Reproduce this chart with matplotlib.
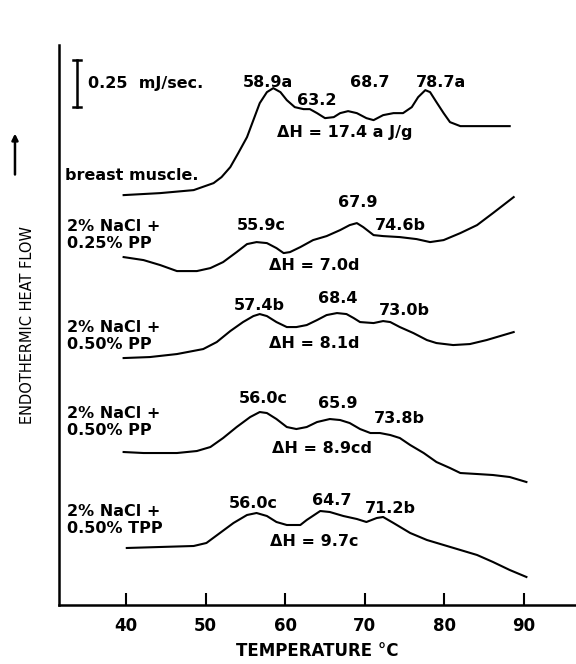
import matplotlib.pyplot as plt

# DSC thermograms, heat flow in arbitrary units (curves stacked as in the original)
t_breast = [39.7, 44.3, 48.5, 51.0, 52.0, 53.1, 54.1, 55.2, 56.0, 56.8, 57.7, 58.5, 59.4, 60.2,
            61.2, 62.3, 63.1, 64.0, 65.0, 66.1, 66.9, 67.9, 69.0, 70.2, 71.1, 72.3, 73.6, 74.8,
            75.9, 76.7, 77.6, 78.2, 79.0, 79.9, 80.7, 82.0, 84.1, 88.2]
h_breast = [410, 412, 415, 422, 428, 438, 452, 468, 485, 502, 513, 517, 513, 505,
            498, 496, 496, 492, 487, 488, 492, 494, 492, 487, 485, 490, 492, 492,
            498, 508, 515, 513, 503, 492, 483, 479, 479, 479]

t_pp25 = [39.7, 42.2, 44.3, 46.4, 48.9, 50.6, 52.2, 53.9, 55.2, 56.4, 57.7, 58.9, 59.8, 60.6,
          61.9, 63.5, 65.2, 66.9, 68.1, 69.0, 69.8, 71.1, 72.3, 74.4, 76.5, 78.2, 79.9, 82.0,
          84.1, 86.1, 88.7]
h_pp25 = [348, 345, 340, 334, 334, 337, 343, 353, 361, 363, 362, 357, 352, 353,
          358, 365, 369, 375, 380, 382, 378, 370, 369, 368, 366, 363, 365, 372,
          380, 392, 408]

t_pp50a = [39.7, 43.0, 46.4, 49.7, 51.4, 53.1, 54.7, 56.0, 56.8, 57.7, 58.9, 60.2, 61.4, 62.7,
           64.0, 65.2, 66.5, 67.7, 68.6, 69.4, 71.1, 72.3, 73.2, 74.4, 76.1, 77.8, 79.0, 81.1,
           83.2, 85.3, 88.7]
h_pp50a = [247, 248, 251, 256, 263, 274, 283, 289, 291, 289, 283, 278, 278, 280,
           285, 290, 292, 291, 287, 283, 282, 284, 283, 278, 272, 265, 262, 260,
           261, 265, 273]

t_pp50b = [39.7, 42.2, 46.4, 48.9, 50.6, 52.2, 53.9, 55.6, 56.8, 57.7, 58.9, 60.2, 61.4, 62.7,
           64.0, 65.6, 66.9, 68.1, 69.4, 70.7, 71.9, 73.2, 74.4, 75.7, 77.4, 79.0, 80.7, 82.0,
           84.1, 86.1, 88.2, 90.3]
h_pp50b = [153, 152, 152, 154, 158, 167, 178, 188, 193, 192, 186, 178, 176, 178,
           183, 186, 185, 182, 176, 172, 172, 170, 167, 160, 152, 143, 137, 132,
           131, 130, 128, 123]

t_tpp = [40.1, 44.3, 48.5, 50.1, 51.8, 53.5, 55.2, 56.4, 57.7, 58.9, 60.2, 61.9, 62.7, 64.4,
         65.6, 67.3, 69.0, 70.2, 71.5, 72.3, 73.6, 75.7, 77.8, 79.9, 82.0, 84.1, 86.1, 88.2,
         90.3]
h_tpp = [57, 58, 59, 62, 72, 82, 90, 92, 89, 83, 80, 80, 85, 94,
         93, 89, 86, 83, 87, 88, 82, 72, 65, 60, 55, 50, 43, 35, 28]

curves = [(t_breast, h_breast), (t_pp25, h_pp25), (t_pp50a, h_pp50a),
          (t_pp50b, h_pp50b), (t_tpp, h_tpp)]

sample_names = ['2% NaCl +\n0.25% PP', '2% NaCl +\n0.50% PP',
                '2% NaCl +\n0.50% PP', '2% NaCl +\n0.50% TPP']
sample_name_y = [370, 269, 183, 85]

# peak labels: (text, temperature, heat flow)
peak_labels = [
    ('58.9a', 57.8, 523), ('68.7', 70.6, 523), ('78.7a', 79.6, 523), ('63.2', 64.0, 505),
    ('ΔH = 17.4 a J/g', 67.5, 473),
    ('55.9c', 57.0, 380), ('67.9', 69.1, 403), ('74.6b', 74.5, 380), ('ΔH = 7.0d', 63.6, 340),
    ('57.4b', 56.8, 300), ('68.4', 66.6, 307), ('73.0b', 75.0, 295), ('ΔH = 8.1d', 63.7, 262),
    ('56.0c', 57.2, 207), ('65.9', 66.6, 202), ('73.8b', 74.4, 187), ('ΔH = 8.9cd', 64.6, 157),
    ('56.0c', 56.0, 102), ('64.7', 65.9, 105), ('71.2b', 73.2, 97), ('ΔH = 9.7c', 63.7, 63),
]

xticks = [40, 50, 60, 70, 80, 90]

plt.rcParams['font.family'] = ['DejaVu Sans']
fig = plt.figure(figsize=(5.76, 6.64), dpi=100)
ax = fig.add_axes([0.1024, 0.0889, 0.8976, 0.8431])

for t, h in curves:
    ax.plot(t, h, color='black', lw=1.5, solid_joinstyle='round')

for name, y in zip(sample_names, sample_name_y):
    ax.text(32.6, y, name, ha='left', va='center', fontsize=11.5,
            fontweight='bold', linespacing=1.15)
ax.text(32.3, 430, 'breast muscle.', ha='left', va='center', fontsize=11.5, fontweight='bold')

for txt, x, y in peak_labels:
    ax.text(x, y, txt, ha='center', va='center', fontsize=11.5, fontweight='bold')

# scale bar
ax.plot([33.84, 33.84], [498, 545], color='black', lw=1.8)
ax.plot([33.4, 34.3], [498, 498], color='black', lw=1.8)
ax.plot([33.4, 34.3], [545, 545], color='black', lw=1.8)
ax.text(35.2, 522, '0.25  mJ/sec.', ha='left', va='center', fontsize=11.5, fontweight='bold')

ax.set_xlim(31.58, 96.53)
ax.set_ylim(0, 560)
ax.set_xticks(xticks)
ax.set_xticklabels([str(v) for v in xticks], fontsize=12, fontweight='bold')
ax.tick_params(axis='x', direction='in', length=9, width=1.5, pad=9)
ax.set_yticks([])
for s in ['top', 'right']:
    ax.spines[s].set_visible(False)
ax.spines['left'].set_linewidth(1.8)
ax.spines['bottom'].set_linewidth(1.8)

ax.set_xlabel('TEMPERATURE °C', fontsize=12, fontweight='bold', labelpad=5)
fig.text(0.047, 0.51, 'ENDOTHERMIC HEAT FLOW', rotation=90, ha='center', va='center',
         fontsize=10.5)
# upward arrow beside the y label
ax.annotate('', xy=(0.026, 0.803), xytext=(0.026, 0.733), xycoords='figure fraction',
            textcoords='figure fraction', annotation_clip=False,
            arrowprops=dict(arrowstyle='-|>', color='black', lw=1.8, mutation_scale=9))

fig.savefig('out.png', dpi=100)
